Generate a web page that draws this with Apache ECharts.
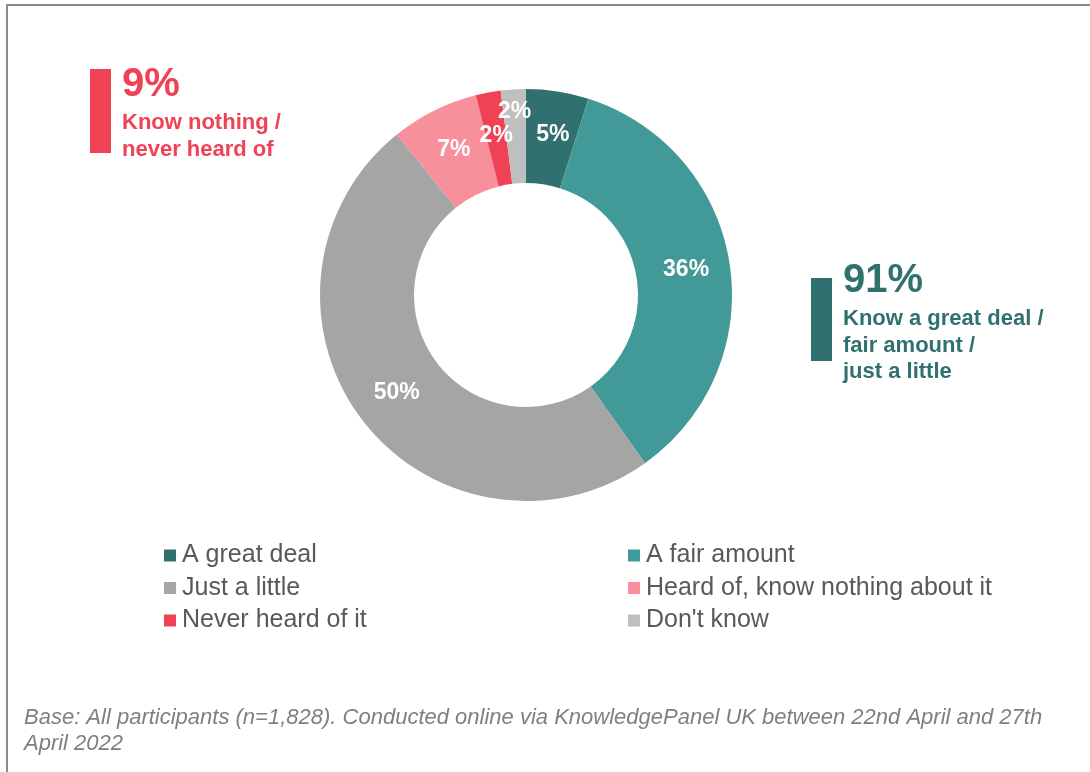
<!DOCTYPE html>
<html>
<head>
<meta charset="utf-8">
<style>html,body{margin:0;padding:0;background:#fff;}#chart{width:1090px;height:772px;}</style>
<script src="https://cdn.jsdelivr.net/npm/echarts@6/dist/echarts.min.js"></script>
</head>
<body>
<div id="chart"></div>
<script>
const categories = ['A great deal', 'A fair amount', 'Just a little', 'Heard of, know nothing about it', 'Never heard of it', "Don't know"];
const values = [5, 36, 50, 7, 2, 2];
const colors = ['#30716F', '#429A98', '#A5A5A5', '#F7909A', '#F04155', '#BFBFBF'];
const legendLeft = ['A great deal', 'Just a little', 'Never heard of it'];
const legendRight = ['A fair amount', 'Heard of, know nothing about it', "Don't know"];
const summaryNeg = { value: '9%', lines: ['Know nothing /', 'never heard of'] };
const summaryPos = { value: '91%', lines: ['Know a great deal /', 'fair amount /', 'just a little'] };
const footnote = ['Base: All participants (n=1,828). Conducted online via KnowledgePanel UK between 22nd April and 27th', 'April 2022'];

const FONT = "'Liberation Sans', Arial, sans-serif";
// index of the slice whose label sits further out (drawn by an overlay ring)
const outerLabelIdx = 5;

const chart = echarts.init(document.getElementById('chart'), null, { renderer: 'canvas' });

function legendCfg(left, data) {
  return {
    orient: 'vertical', left: left, top: 543, padding: 0,
    itemWidth: 12, itemHeight: 12, itemGap: 7.5, icon: 'rect',
    selectedMode: false, data: data,
    textStyle: { fontFamily: FONT, fontSize: 25, lineHeight: 25, color: '#595959', padding: [0, 0, 0, 1] }
  };
}

function annot(x, color, barY0, barY1, obj, bigY, lineY0) {
  const els = [
    { type: 'rect', shape: { x: x, y: barY0, width: 21, height: barY1 - barY0 }, style: { fill: color } },
    { type: 'text', style: { x: x + 32, y: bigY, text: obj.value, fill: color, font: 'bold 40px ' + FONT, textVerticalAlign: 'middle' } }
  ];
  obj.lines.forEach((t, i) => {
    els.push({ type: 'text', style: { x: x + 32, y: lineY0 + i * 26.5, text: t, fill: color, font: 'bold 22px ' + FONT, textVerticalAlign: 'middle' } });
  });
  return els;
}

const graphics = [
  { type: 'polyline', shape: { points: [[7, 772], [7, 5], [1090, 5]] }, style: { stroke: '#8C8C8C', lineWidth: 2, fill: null } },
  ...annot(90, '#F04155', 69, 153, summaryNeg, 85, 123),
  ...annot(811, '#30716F', 278, 361, summaryPos, 281, 319),
  { type: 'text', style: { x: 24, y: 718, text: footnote[0], fill: '#7F7F7F', font: 'italic 22px ' + FONT, textVerticalAlign: 'middle' } },
  { type: 'text', style: { x: 24, y: 744, text: footnote[1], fill: '#7F7F7F', font: 'italic 22px ' + FONT, textVerticalAlign: 'middle' } }
];

const labelBase = { color: '#fff', fontFamily: FONT, fontWeight: 'bold', fontSize: 23, formatter: '{c}%', padding: [6, 0, 0, 0] };

chart.setOption({
  animation: false,
  backgroundColor: '#fff',
  color: colors,
  legend: [legendCfg(164, legendLeft), legendCfg(628, legendRight)],
  graphic: graphics,
  series: [{
    type: 'pie',
    center: [526, 295],
    radius: [112, 206],
    startAngle: 90,
    clockwise: true,
    avoidLabelOverlap: false,
    label: Object.assign({ show: true, position: 'inside' }, labelBase),
    labelLine: { show: false },
    emphasis: { disabled: true },
    data: categories.map((c, i) => {
      const d = { name: c, value: values[i], itemStyle: { color: colors[i] } };
      if (i === 0) d.label = { padding: [0, 0, 12, 4] };
      if (i === outerLabelIdx) d.label = { show: false };
      return d;
    })
  }, {
    // transparent overlay ring, only used to place the small "Don't know" label higher
    type: 'pie',
    center: [526, 295],
    radius: [148, 214],
    startAngle: 90,
    clockwise: true,
    silent: true,
    avoidLabelOverlap: false,
    legendHoverLink: false,
    label: Object.assign({ show: true, position: 'inside' }, labelBase),
    labelLine: { show: false },
    emphasis: { disabled: true },
    itemStyle: { color: 'rgba(0,0,0,0)' },
    data: categories.map((c, i) => ({
      name: c, value: values[i],
      itemStyle: { color: 'rgba(0,0,0,0)' },
      label: { show: i === outerLabelIdx }
    }))
  }]
});
</script>
</body>
</html>
